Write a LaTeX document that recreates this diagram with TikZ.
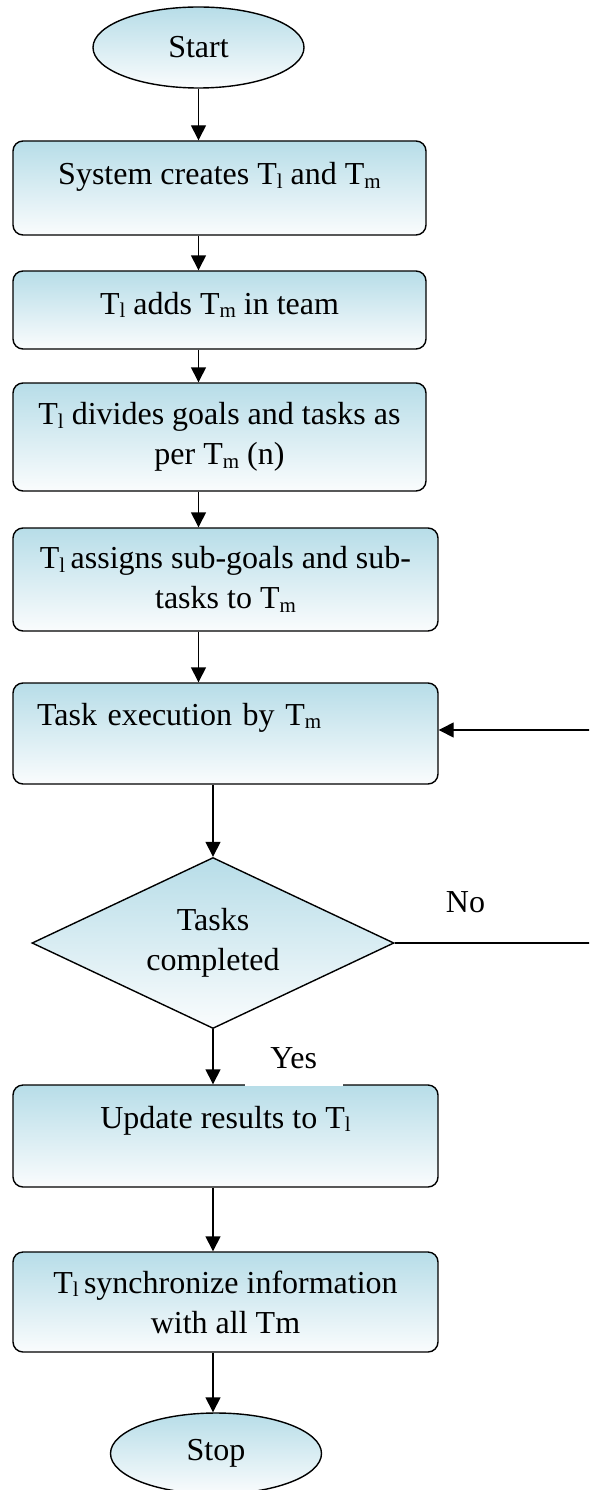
\documentclass[tikz,border=0pt]{standalone}
\usepackage{fontspec}
\setmainfont{Liberation Serif}
\usetikzlibrary{arrows.meta,positioning,shapes.geometric}

\definecolor{boxblue}{RGB}{183,221,232}
\definecolor{boxwhite}{RGB}{250,252,253}
\newcommand{\subtxt}[1]{\raisebox{-0.12em}{\fontsize{21}{21}\selectfont #1}}

\begin{document}
\begin{tikzpicture}[
        x=1pt, y=-1pt,
        font=\fontsize{32}{40}\selectfont,
        bluefill/.style={top color=boxblue, bottom color=boxwhite},
        box/.style={draw, line width=1.4pt, bluefill, rounded corners=10pt, align=center, inner sep=3pt, minimum width=413pt},
        term/.style={draw, line width=1.4pt, bluefill, ellipse, inner sep=0pt, minimum width=211pt, minimum height=81pt},
        decision/.style={draw, line width=1.4pt, bluefill, diamond, aspect=2.1, inner sep=0pt, align=center, minimum width=362pt, minimum height=171pt},
        lbl/.style={inner sep=3pt},
        yeslbl/.style={fill=white, inner xsep=0pt, inner ysep=17pt, minimum width=98pt, text depth=0pt},
        arrow/.style={-{Triangle[length=15pt,width=15pt]}, line width=1.4pt}
        ]
        \useasboundingbox (0,0) rectangle (589,1490);
        \clip (0,0) rectangle (589,1490);

        % Terminals
        \node[term] (start) at (198.5,47.5) {Start};
        \node[term] (stop)  at (216,1453.5) {Stop};

        % Process boxes
        \node[box, minimum height=94pt, text height=23pt, text depth=29pt] (create) at (219.5,188) {System creates T\subtxt{l} and T\subtxt{m}};
        \node[box, minimum height=78pt, text height=23pt, text depth=15pt] (addteam) at (219.5,310) {T\subtxt{l} adds T\subtxt{m} in team};
        \node[box, minimum height=108pt] (divide) at (219.5,437) {T\subtxt{l} divides goals and tasks as\\per T\subtxt{m} (n)};
        \node[box, minimum width=425pt, minimum height=103pt] (assign) at (225.5,579.5) {T\subtxt{l}\,assigns sub-goals and sub-\\tasks to T\subtxt{m}};
        \node[box, minimum width=425pt, minimum height=101pt, text width=377pt, align=left, text height=23pt, text depth=40pt] (exec) at (225.5,733.5) {Task execution by T\subtxt{m}};
        \node[box, minimum width=425pt, minimum height=102pt, text height=23pt, text depth=39pt] (update) at (225.5,1136) {Update results to T\subtxt{l}};
        \node[box, minimum width=425pt, minimum height=100pt] (sync) at (225.5,1302) {T\subtxt{l}\,synchronize information\\with all Tm};

        % Decision
        \node[decision] (check) at (213,943) {Tasks\\completed};
        \coordinate (loop) at (600,943);

        % Arrows
        \draw[arrow] (start.south) -- (start.south |- create.north);
        \draw[arrow] (create.south -| start) -- (addteam.north -| start);
        \draw[arrow] (addteam.south -| start) -- (divide.north -| start);
        \draw[arrow] (divide.south -| start) -- (assign.north -| start);
        \draw[arrow] (assign.south -| start) -- (exec.north -| start);
        \draw[arrow] (exec.south -| check) -- (check.north);
        \draw[arrow] (check.east) -- node[lbl, pos=0.345, above=26pt]{No} (loop) |- ([yshift=3.5pt]exec.east);
        \draw[arrow] (check.south) -- (update.north -| check);
        \draw[arrow] (update.south -| check) -- (sync.north -| check);
        \draw[arrow] (sync.south -| check) -- (stop.north -| check);

        \node[yeslbl, anchor=south west, xshift=31.5pt, yshift=-1.5pt] (yes) at (update.north -| check) {Yes};
    \end{tikzpicture}
\end{document}
